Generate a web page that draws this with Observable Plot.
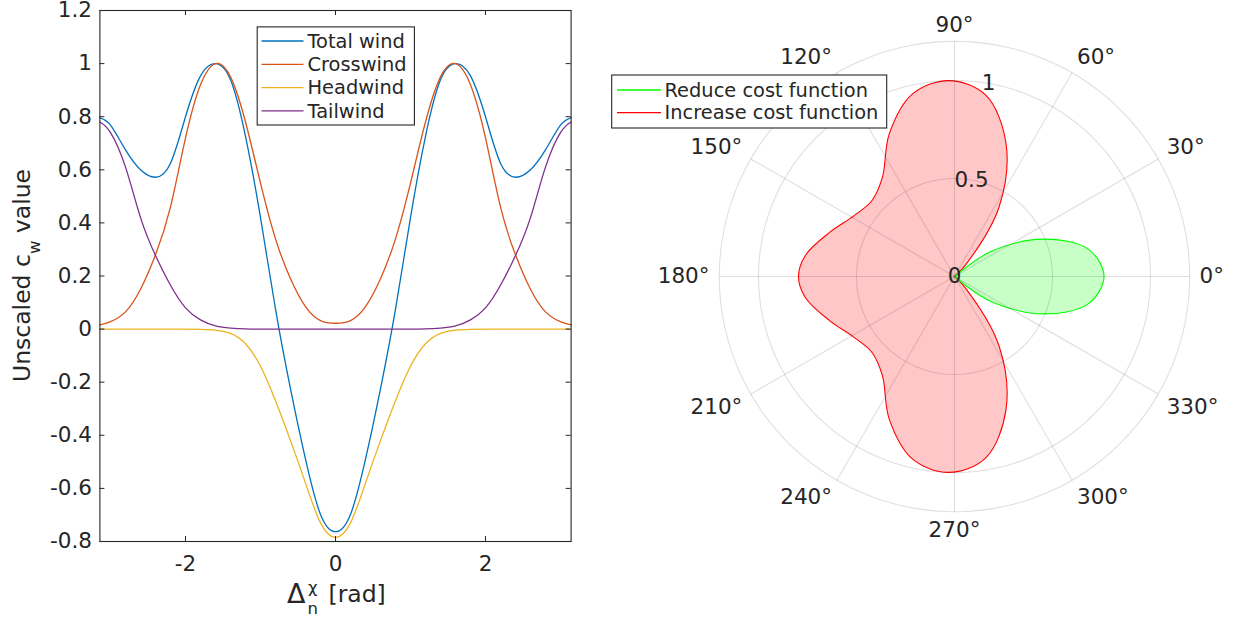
<!DOCTYPE html>
<html>
<head>
<meta charset="utf-8">
<script src="https://cdn.jsdelivr.net/npm/d3@7"></script>
<script src="https://cdn.jsdelivr.net/npm/@observablehq/plot@0.6"></script>
<style>
  html, body { margin: 0; padding: 0; background: #fff; }
  #wrap { display: flex; width: 1245px; height: 619px; overflow: hidden; background: #fff; }
  #wrap > svg { flex: none; display: block; }
</style>
</head>
<body>
<div id="wrap"></div>
<script>
// Heading offset (rad), sampled from -pi to pi
const heading = [-3.1416, -3.0, -2.8, -2.6, -2.4, -2.2, -2.0, -1.8, -1.6, -1.4, -1.2, -1.0, -0.8, -0.6, -0.4, -0.2, 0,
                 0.2, 0.4, 0.6, 0.8, 1.0, 1.2, 1.4, 1.6, 1.8, 2.0, 2.2, 2.4, 2.6, 2.8, 3.0, 3.1416];

// Unscaled c_w contributions at each heading offset
const totalWind = [0.796, 0.768, 0.675, 0.60, 0.572, 0.625, 0.80, 0.954, 1.0, 0.939, 0.726, 0.42, 0.075, -0.225, -0.49, -0.698, -0.763,
                   -0.698, -0.49, -0.225, 0.075, 0.42, 0.726, 0.939, 1.0, 0.954, 0.80, 0.625, 0.572, 0.60, 0.675, 0.768, 0.796];
const crosswind = [0.016, 0.028, 0.065, 0.15, 0.28, 0.46, 0.72, 0.92, 1.0, 0.95, 0.78, 0.55, 0.34, 0.19, 0.085, 0.032, 0.022,
                   0.032, 0.085, 0.19, 0.34, 0.55, 0.78, 0.95, 1.0, 0.92, 0.72, 0.46, 0.28, 0.15, 0.065, 0.028, 0.016];
const headwind  = [0, 0, 0, 0, 0, 0, 0, -0.001, -0.004, -0.016, -0.055, -0.14, -0.27, -0.42, -0.58, -0.73, -0.785,
                   -0.73, -0.58, -0.42, -0.27, -0.14, -0.055, -0.016, -0.004, -0.001, 0, 0, 0, 0, 0, 0, 0];
const tailwind  = [0.78, 0.74, 0.61, 0.42, 0.277, 0.165, 0.08, 0.035, 0.012, 0.004, 0.001, 0, 0, 0, 0, 0, 0,
                   0, 0, 0, 0, 0, 0.001, 0.004, 0.012, 0.035, 0.08, 0.165, 0.277, 0.42, 0.61, 0.74, 0.78];

const seriesNames  = ["Total wind", "Crosswind", "Headwind", "Tailwind"];
const seriesColors = ["#0072BD", "#D95319", "#EDB120", "#7E2F8E"];

const yTicks = [-0.8, -0.6, -0.4, -0.2, 0, 0.2, 0.4, 0.6, 0.8, 1, 1.2];
const xTicks = [-2, 0, 2];

// Polar panel: grid and labels
const ringRadii = [0.5, 1, 1.2];
const ringLabels = [0, 0.5, 1];
const spokeAngles = [0, 30, 60, 90, 120, 150, 180, 210, 240, 270, 300, 330];
const polarLegend = ["Reduce cost function", "Increase cost function"];
const polarColors = ["#00ff00", "#ff0000"];

const ink = "#262626";
const font = "'DejaVu Sans', sans-serif";
const wrap = document.getElementById("wrap");

// ---------------- left panel: c_w vs heading offset ----------------
const series = [totalWind, crosswind, headwind, tailwind];
const rows = seriesNames.flatMap((name, k) => heading.map((h, i) => ({name, h, v: series[k][i]})));

const L = {w: 600, h: 619, ml: 99.4, mr: 29.4, mt: 10, mb: 78};
const frameW = L.w - L.ml - L.mr;
const frameH = L.h - L.mt - L.mb;

const left = Plot.plot({
  width: L.w, height: L.h,
  marginLeft: L.ml, marginRight: L.mr, marginTop: L.mt, marginBottom: L.mb,
  style: {fontFamily: font, fontSize: "21.5px", color: ink, background: "#fff", overflow: "visible"},
  x: {domain: [-Math.PI, Math.PI]},
  y: {domain: [-0.8, 1.2]},
  color: {domain: seriesNames, range: seriesColors},
  marks: [
    Plot.line(rows, {x: "h", y: "v", z: "name", stroke: "name", strokeWidth: 1.3, curve: "natural"}),
    Plot.tickY(yTicks, {y: d => d, insetRight: frameW - 5, stroke: ink}),
    Plot.tickY(yTicks, {y: d => d, insetLeft: frameW - 5, stroke: ink}),
    Plot.tickX(xTicks, {x: d => d, insetTop: frameH - 5, stroke: ink}),
    Plot.tickX(xTicks, {x: d => d, insetBottom: frameH - 5, stroke: ink}),
    Plot.frame({stroke: ink, strokeWidth: 1.1}),
    Plot.axisY(yTicks, {tickSize: 0, tickPadding: 8, tickFormat: d => String(d), label: null}),
    Plot.axisX(xTicks, {tickSize: 0, tickPadding: 14, tickFormat: d => String(d), label: null})
  ]
});
wrap.appendChild(left);

const ls = d3.select(left);
// y-axis title with subscript
const yTitle = ls.append("text")
  .attr("transform", "translate(30,275.5) rotate(-90)")
  .attr("text-anchor", "middle")
  .attr("font-family", font).attr("font-size", 23.5).attr("fill", ink);
yTitle.append("tspan").text("Unscaled c");
yTitle.append("tspan").attr("baseline-shift", "sub").attr("font-size", 16.5).text("w");
yTitle.append("tspan").text(" value");

// x-axis title: Delta with stacked super/subscript
const xt = ls.append("g").attr("font-family", font).attr("fill", ink).attr("text-anchor", "start");
xt.append("text").attr("x", 287).attr("y", 603).attr("font-size", 27).text("\u0394");
xt.append("text").attr("x", 308).attr("y", 593).attr("font-size", 16.5).text("\u03C7");
xt.append("text").attr("x", 307.5).attr("y", 614).attr("font-size", 16.5).text("n");
xt.append("text").attr("x", 321).attr("y", 602).attr("font-size", 23.5).text(" [rad]");

// legend box
const lg = ls.append("g").attr("font-family", font).attr("font-size", 19.4).attr("text-anchor", "start");
lg.append("rect").attr("x", 257.2).attr("y", 26.9).attr("width", 157.2).attr("height", 98.1)
  .attr("fill", "#fff").attr("stroke", ink).attr("stroke-width", 1.1);
seriesNames.forEach((name, i) => {
  const cy = 41 + i * 23.3;
  lg.append("line").attr("x1", 261.5).attr("x2", 303.5).attr("y1", cy).attr("y2", cy)
    .attr("stroke", seriesColors[i]).attr("stroke-width", 1.3);
  lg.append("text").attr("x", 307.5).attr("y", cy).attr("dy", "0.35em").attr("fill", ink).text(name);
});

// ---------------- right panel: polar view of total wind ----------------
const R = {w: 645, h: 619, ml: 118.8, mr: 55.8, mt: 40.8, mb: 107.8};
const origin = {x: 0, y: 0};
const toXY = (h, r) => ({x: r * Math.cos(h), y: r * Math.sin(h)});
const wrapAngle = h => (h + 2 * Math.PI) % (2 * Math.PI);

// the last sample (pi) repeats the first (-pi)
const samples = heading.slice(0, -1).map((h, i) => ({h, v: totalWind[i]}));
const increase = samples.filter(d => d.v > 0).sort((a, b) => wrapAngle(a.h) - wrapAngle(b.h));
const reduce = samples.filter(d => d.v < 0).sort((a, b) => a.h - b.h);
const increasePts = [origin, ...increase.map(d => toXY(d.h, d.v)), origin];
const reducePts = [origin, ...reduce.map(d => toXY(d.h, -d.v)), origin];

const ringPts = ringRadii.flatMap(r => d3.range(0, 360, 2).map(a => ({r, ...toXY(a * Math.PI / 180, r)})));
const spokes = spokeAngles.map(a => ({a, ...toXY(a * Math.PI / 180, 1.2)}));

const ringLabelPts = ringLabels.map(r => ({t: String(r), ...toXY(80 * Math.PI / 180, r)}));
const labelR = 1.25;
const angleLabelPts = spokeAngles.map(a => {
  const rad = a * Math.PI / 180, c = Math.cos(rad), s = Math.sin(rad);
  return {
    t: a + "\u00B0", ...toXY(rad, labelR),
    ta: c > 0.01 ? "start" : c < -0.01 ? "end" : "middle",
    la: s > 0.01 ? "bottom" : s < -0.01 ? "top" : "middle"
  };
});
const angleGroups = d3.groups(angleLabelPts, d => d.ta + "|" + d.la);

const right = Plot.plot({
  width: R.w, height: R.h,
  marginLeft: R.ml, marginRight: R.mr, marginTop: R.mt, marginBottom: R.mb,
  style: {fontFamily: font, fontSize: "21.5px", color: ink, background: "#fff", overflow: "visible"},
  x: {domain: [-1.2, 1.2], axis: null},
  y: {domain: [-1.2, 1.2], axis: null},
  marks: [
    Plot.line(increasePts, {x: "x", y: "y", curve: "catmull-rom", fill: polarColors[1], fillOpacity: 0.22,
                            stroke: polarColors[1], strokeWidth: 1.1}),
    Plot.line(reducePts, {x: "x", y: "y", curve: "catmull-rom", fill: polarColors[0], fillOpacity: 0.22,
                          stroke: polarColors[0], strokeWidth: 1.1}),
    Plot.line(ringPts, {x: "x", y: "y", z: "r", curve: "linear-closed", stroke: ink, strokeOpacity: 0.15, strokeWidth: 1.1}),
    Plot.link(spokes, {x1: () => 0, y1: () => 0, x2: "x", y2: "y", stroke: ink, strokeOpacity: 0.15, strokeWidth: 1.1}),
    Plot.text(ringLabelPts, {x: "x", y: "y", text: "t", fill: ink, fontSize: 21.5}),
    ...angleGroups.map(([key, pts]) => {
      const [ta, la] = key.split("|");
      return Plot.text(pts, {x: "x", y: "y", text: "t", textAnchor: ta, lineAnchor: la, fill: ink, fontSize: 21.5});
    })
  ]
});
wrap.appendChild(right);

// polar legend box
const pg = d3.select(right).append("g").attr("font-family", font).attr("font-size", 19.4).attr("text-anchor", "start");
pg.append("rect").attr("x", 11.7).attr("y", 75).attr("width", 275).attr("height", 53)
  .attr("fill", "#fff").attr("stroke", ink).attr("stroke-width", 1.1);
polarLegend.forEach((name, i) => {
  const cy = 90 + i * 22.7;
  pg.append("line").attr("x1", 17).attr("x2", 61).attr("y1", cy).attr("y2", cy)
    .attr("stroke", polarColors[i]).attr("stroke-width", 1.3);
  pg.append("text").attr("x", 64.5).attr("y", cy).attr("dy", "0.35em").attr("fill", ink).text(name);
});
</script>
</body>
</html>
